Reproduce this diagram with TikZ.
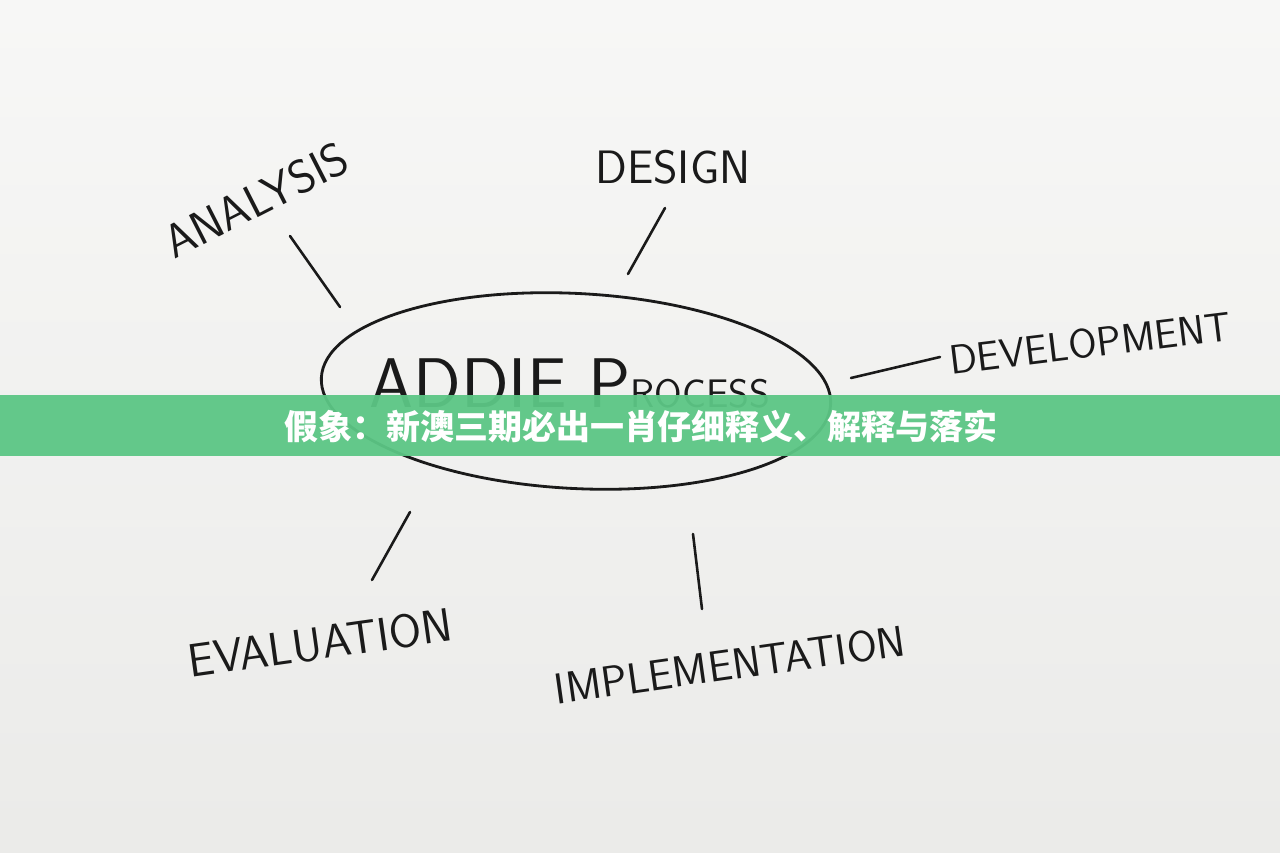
\documentclass[tikz,border=0pt]{standalone}
\usepackage{fontspec}
\usetikzlibrary{shapes.geometric}
\setmainfont{DejaVu Sans}
\newfontfamily\cjk{Noto Sans CJK SC}
\definecolor{board}{HTML}{F2F2F0}
\definecolor{ink}{HTML}{1A1A1A}
\definecolor{banner}{HTML}{5CC685}
\tikzset{
  hand/.style={text=ink,font=\fontsize{40}{44}\selectfont\sffamily},
  stroke/.style={draw=ink,line width=2.2pt,line cap=round}
}
\begin{document}
\begin{tikzpicture}[x=0.03cm,y=-0.03cm]
\useasboundingbox (0,0) rectangle (1280,853);
\shade[top color=board!60!white,bottom color=board!97!black] (0,0) rectangle (1280,853);
% central ellipse
\node[draw=ink,line width=2.4pt,ellipse,minimum width=510*0.03cm,minimum height=195*0.03cm,rotate=-3,inner sep=0] (proc) at (576,391) {};
\node[hand,font=\fontsize{60}{66}\selectfont\sffamily] (title) at (570,383) {ADDIE P\fontsize{34}{40}\selectfont ROCESS};
% labels
\node[hand,rotate=27] (ana) at (256,200) {ANALYSIS};
\node[hand] (des) at (673,167) {DESIGN};
\node[hand,rotate=7,font=\fontsize{35}{40}\selectfont\sffamily] (dev) at (1090,343) {DEVELOPMENT};
\node[hand,rotate=8] (eva) at (320,643) {EVALUATION};
\node[hand,rotate=8,font=\fontsize{37}{40}\selectfont\sffamily] (imp) at (730,665) {IMPLEMENTATION};
% connectors
\coordinate (a1) at (290,236); \coordinate (a2) at (340,307);
\coordinate (d1) at (665,208); \coordinate (d2) at (628,274);
\coordinate (v1) at (940,357); \coordinate (v2) at (851,378);
\coordinate (e1) at (410,512); \coordinate (e2) at (372,580);
\coordinate (i1) at (693,534); \coordinate (i2) at (702,609);
\draw[stroke] (a1) -- (a2);
\draw[stroke] (d1) -- (d2);
\draw[stroke] (v1) -- (v2);
\draw[stroke] (e1) -- (e2);
\draw[stroke] (i1) -- (i2);
% banner
\fill[banner,opacity=0.95] (0,395) rectangle (1280,456);
\node[text=white,font=\cjk\bfseries\fontsize{29}{32}\selectfont] (ban) at (641,426) {假象：新澳三期必出一肖仔细释义、解释与落实};
\end{tikzpicture}
\end{document}
